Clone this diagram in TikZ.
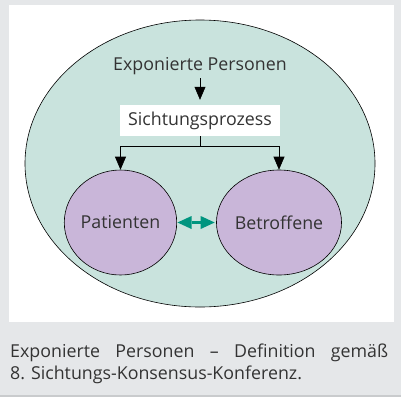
\documentclass[tikz,border=0pt]{standalone}
\usepackage{fontspec}
\setmainfont{Open Sans}
\usetikzlibrary{shapes.geometric,arrows.meta}
\definecolor{panelgrey}{HTML}{E5E7E9}
\definecolor{panelshade}{HTML}{C9CBCD}
\definecolor{outerfill}{HTML}{C9E3DD}
\definecolor{circfill}{HTML}{C9B6D9}
\definecolor{arrowgreen}{HTML}{00957F}
\definecolor{textgrey}{HTML}{333333}
\tikzset{
  circ/.style={draw=black, line width=0.6pt, ellipse, fill=circfill,
    minimum width=112pt, minimum height=105pt, inner sep=0pt},
  pfeil/.style={-{Triangle[length=13pt,width=11pt]}, line width=0.6pt},
  gruenpfeil/.style={{Triangle[length=14pt,width=13pt,line width=0pt]}-{Triangle[length=14pt,width=13pt,line width=0pt]},
    line width=3.5pt, arrowgreen, shorten <=0.5pt, shorten >=1.5pt}
}
\begin{document}
\begin{tikzpicture}[x=1pt,y=-1pt,font=\fontsize{17.8}{22}\selectfont,text=textgrey]
  \useasboundingbox (0,0) rectangle (401,397);
  \fill[panelgrey] (0,0) rectangle (401,397);
  \fill[panelshade] (0,395) rectangle (401,397);
  \fill[white] (9,5) rectangle (394,322);
  \node[draw=black, line width=0.6pt, ellipse, fill=outerfill,
    minimum width=350pt, minimum height=287pt, inner sep=0pt] (outer) at (200,163.5) {};
  \node (expo) at (200,66) {Exponierte Personen};
  \node[fill=white, minimum width=160pt, minimum height=31pt] (sicht) at (200,120.5) {Sichtungsprozess};
  \node[circ] (pat) at (120.5,222.5) {Patienten};
  \node[circ] (betr) at (279,222.5) {Betroffene};
  \coordinate (split) at (200,146);
  \draw[pfeil, shorten >=5pt] (expo) -- (sicht);
  \draw[line width=0.6pt] (sicht) -- (split);
  \draw[pfeil] (split) -| (pat);
  \draw[pfeil] (split) -| (betr);
  \draw[gruenpfeil] (pat) -- (betr);
  \node[anchor=north west, text width=378pt, align=left, inner sep=0pt] (caption) at (10,344)
    {\makebox[378pt][l]{Exponierte\hfill Personen\hfill --\hfill Definition\hfill gemäß}\\8.\ Sichtungs-Konsensus-Konferenz.};
\end{tikzpicture}
\end{document}
